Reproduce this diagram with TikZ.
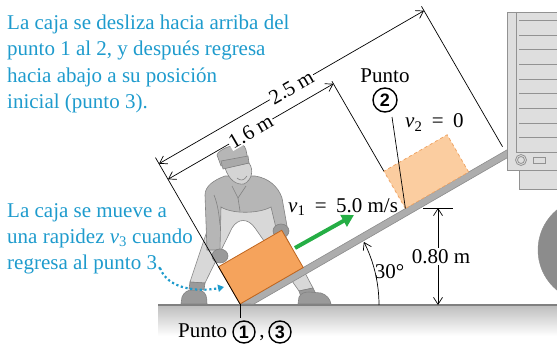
\documentclass[tikz,border=0pt]{standalone}
\usepackage{fontspec}
\setmainfont{Liberation Serif}
\newfontfamily\circfont{Liberation Sans}[BoldFont={Liberation Sans Bold}]
\usetikzlibrary{arrows.meta}

\definecolor{notecol}{HTML}{1E9BCD}
\definecolor{boxfill}{HTML}{F5A35C}
\definecolor{boxline}{HTML}{C0651E}
\definecolor{ghostfill}{HTML}{FBCDA0}
\definecolor{ghostline}{HTML}{F0A565}
\definecolor{rampfill}{HTML}{ADADAD}
\definecolor{rampline}{HTML}{8C8C8C}
\definecolor{speedgreen}{HTML}{25AE45}
\definecolor{truckfill}{HTML}{DEDEDE}
\definecolor{truckline}{HTML}{929292}
\definecolor{wheelfill}{HTML}{8C8C8C}
\definecolor{shirt}{HTML}{B6B6B6}
\definecolor{pants}{HTML}{D8D8D8}
\definecolor{figline}{HTML}{828282}
\definecolor{figdark}{HTML}{9A9A9A}
\definecolor{skin}{HTML}{D4D4D4}

\tikzset{
  barb/.tip={Straight Barb[length=7pt,width=9pt]},
  dimline/.style={line width=0.7pt, barb-barb},
  extline/.style={line width=0.7pt},
  dimlabel/.style={fill=white, inner sep=1pt},
  note/.style={text=notecol, align=left, anchor=north west, inner sep=0pt},
  plain/.style={inner sep=0pt},
  pointnum/.style={circle, draw, line width=1.4pt, minimum size=22pt, inner sep=0pt,
    font={\circfont\bfseries\fontsize{18}{18}\selectfont}},
  figure/.style={draw=figline, line width=0.6pt},
}
\newcommand\gap{\hspace{0.45em}}

\begin{document}
\begin{tikzpicture}[x=1pt, y=-1pt, font=\fontsize{21}{26.3}\selectfont]
\useasboundingbox (0,0) rectangle (557,345);
\begin{scope}
\clip (0,0) rectangle (557,345);

% ground
\shade[top color=black!25, bottom color=white] (158,306) rectangle (557,336);
\draw[line width=1.1pt, draw=black!50] (158,305) -- (557,305);

% worker
\filldraw[figure, fill=pants] (214,205) -- (272,200) -- (278,222) -- (313,288) -- (299,291)
  -- (255,228) .. controls (248,218) and (238,218) .. (232,228) -- (205,283) -- (190,282)
  -- (210,222) -- cycle;
\filldraw[figure, fill=figdark] (190,282) -- (205,283) -- (204,290) -- (189,289) -- cycle;
\filldraw[figure, fill=figdark] (299,291) -- (313,288) -- (316,294) -- (301,297) -- cycle;
\filldraw[figure, fill=figdark] (181,304) -- (182,297) .. controls (184,292) and (188,290) .. (192,290)
  -- (202,291) .. controls (206,293) and (207,297) .. (207,304) -- cycle;
\filldraw[figure, fill=figdark] (298,304) -- (299,297) .. controls (301,293) and (305,292) .. (309,292)
  -- (321,293) .. controls (327,295) and (330,299) .. (331,304) -- cycle;
\filldraw[figure, fill=shirt] (205,195) .. controls (205,186) and (214,180) .. (225,176)
  -- (255,176) .. controls (268,178) and (278,186) .. (282,198) -- (287,226) -- (276,228)
  -- (271,207) .. controls (258,214) and (232,214) .. (221,207) -- (220,250) -- (207,250) -- cycle;
\draw[figure] (232,186) -- (238,198) -- (246,186);
\draw[figure] (238,198) -- (240,211);
\draw[figure] (214,195) .. controls (218,205) and (219,215) .. (220,225);
\filldraw[figure, fill=figdark] (220,256) ellipse[x radius=8, y radius=7];
\filldraw[figure, fill=figdark] (281,231) ellipse[x radius=8, y radius=7];
% head and cap
\filldraw[figure, fill=skin] (225,168) -- (249,163) .. controls (254,170) and (252,180) .. (244,184)
  .. controls (236,185) and (229,180) .. cycle;
\draw[figure] (237,178) .. controls (240,181) and (244,181) .. (247,176);
\filldraw[figure, fill=shirt] (217,155) .. controls (218,150) and (232,144) .. (240,145)
  .. controls (244,145) and (246,147) .. (246,150) -- (248,160) -- (221,166) -- cycle;
\filldraw[figure, fill=figdark!85!white] (221,161) -- (248,156) -- (249,163) -- (223,169) -- cycle;

% ramp
\begin{scope}[shift={(240,304)}, y=1pt, rotate=30]
  \filldraw[fill=rampfill, draw=rampline, line width=0.6pt] (0,0) -- (312,0) -- (312,-7) -- (12,-7) -- cycle;
\end{scope}

% truck
\filldraw[fill=wheelfill, draw=wheelfill] (590,250) circle[radius=52];
\filldraw[fill=truckfill, draw=truckline, line width=0.8pt] (507,12) rectangle (575,170);
\filldraw[fill=truckfill, draw=truckline, line width=0.8pt] (519,170) rectangle (575,189);
\draw[truckline, line width=0.8pt] (516,12) -- (516,152) -- (575,152);
\foreach \yy in {20,35,49,64,79,93,108,123,137}
  \draw[truckline, line width=0.8pt] (519,\yy) -- (575,\yy);
\draw[truckline, line width=0.8pt] (521,160) circle[radius=5.5];
\draw[truckline, line width=0.8pt] (521,160) circle[radius=3.5];
\draw[truckline, line width=0.8pt] (533,157.5) rectangle (545,163.5);

% crate positions and dimensions along the ramp
\begin{scope}[shift={(240,304)}, y=1pt, rotate=30]
  \coordinate (p1) at (0,0);
  \coordinate (p2) at (191,0);
  \filldraw[fill=ghostfill, draw=ghostline, line width=0.8pt, dashed] (191,0) rectangle (264,43);
  \filldraw[fill=boxfill, draw=boxline, line width=0.8pt] (0,0) rectangle (73,43);
  \draw[extline] (0,0) -- (0,169);
  \draw[extline] (191,43) -- (191,147);
  \draw[extline] (306,5) -- (306,167);
  \draw[dimline] (0,162) -- node[dimlabel, rotate=30] {2.5 m} (306,162);
  \draw[dimline] (0,144) -- node[dimlabel, rotate=30] {1.6 m} (191,144);
\end{scope}

% point labels
\draw[line width=0.8pt] (p1) -- ++(0,14);
\node[plain, anchor=base west] (punto13) at (178,337) {Punto};
\node[pointnum] (c1) at (244,332) {1};
\node[plain, anchor=base] (comma) at (262,337) {,};
\node[pointnum] (c3) at (280,332) {3};

\node[plain, anchor=base] (punto2) at (385,82) {Punto};
\node[pointnum, minimum size=24pt] (c2) at (385,100) {2};
\coordinate (lead2) at (392,117);
\draw[line width=0.7pt] (lead2) -- (p2);

% velocity
\coordinate (vtail) at (295,248);
\coordinate (vhead) at (354,215);
\draw[speedgreen, line width=4pt, -{Triangle[length=12pt,width=13pt]}] (vtail) -- (vhead);
\node[plain, anchor=base west] (v1) at (288,212) {\textit{v}\textsubscript{1}\gap=\gap5.0 m/s};
\node[plain, anchor=base west] (v2) at (405,128) {\textit{v}\textsubscript{2}\gap=\gap0};

% height of the ramp end
\coordinate (htop) at (438,208);
\coordinate (hbot) at (438,305);
\draw[line width=0.8pt] (423,208) -- (453,208);
\draw[dimline] (hbot) -- node[dimlabel, xshift=3pt] {0.80 m} (htop);

% angle
\begin{scope}[shift={(240,305)}, y=1pt]
  \draw[line width=0.7pt, -barb] (139,0) arc[start angle=0, end angle=27, radius=139];
\end{scope}
\node[plain, anchor=base] (ang) at (389.5,278) {30°};

% notes
\node[note] (topnote) at (7,14.7) {La caja se desliza hacia arriba del\\
punto 1 al 2, y después regresa\\hacia abajo a su posición\\inicial (punto 3).};
\node[note] (midnote) at (7,203) {La caja se mueve a\\una rapidez \textit{v}\textsubscript{3} cuando\\
regresa al punto 3.};
\coordinate (dotstart) at (160,268);
\coordinate (dotend) at (224,287);
\draw[notecol, line width=2.2pt, dash pattern=on 2.2pt off 2.6pt, -{Triangle[length=6pt,width=7pt]}]
  (dotstart) .. controls (168,290) and (200,292) .. (dotend);
\end{scope}
\end{tikzpicture}
\end{document}
